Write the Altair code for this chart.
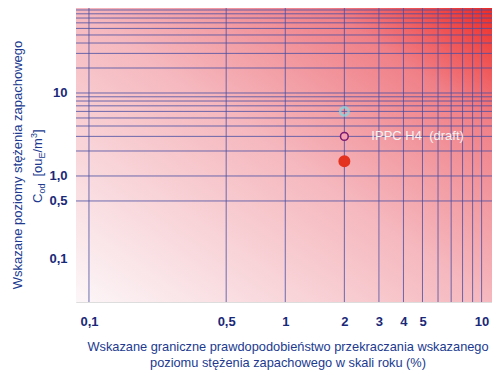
import altair as alt
import pandas as pd

# ---- data -------------------------------------------------------------
x_grid = [0.1, 0.5, 1, 2, 3, 4, 5, 6, 7, 8, 9, 10]
y_grid = [0.5, 1, 2, 3, 4, 5, 6, 7, 8, 9, 10, 20, 30, 40, 50, 60, 70, 80, 90, 100]
x_ticks = [0.1, 0.5, 1, 2, 3, 4, 5, 10]
x_tick_labels = ["0,1", "0,5", "1", "2", "3", "4", "5", "10"]
y_ticks = [0.1, 0.5, 1, 10]
y_tick_labels = ["0,1", "0,5", "1,0", "10"]
pt_x = [2, 2, 2]
pt_y = [6, 3, 1.5]
pt_kind = ["cyan", "open", "red"]
annot_text = ["IPPC\u00a0H4\u00a0\u00a0(draft)"]
x_title_lines = ["Wskazane graniczne prawdopodobieństwo przekraczania wskazanego",
                 "poziomu stężenia zapachowego w skali roku (%)"]
y_title_line1 = ["Wskazane poziomy stężenia zapachowego"]
# second y-title line split into pieces: (text, size, role)
y_title_pieces = [("C", 13, "main"), ("od", 9, "sub"), ("[ou", 13, "main"),
                  ("E", 9, "sub"), ("/m", 13, "main"), ("3", 9, "sup"), ("]", 13, "main")]
piece_gap_before = [0, 0, 7, 0, 0, 0, 0]

W, H = 416, 294
FONT = "Liberation Sans"
LABEL_C = "#1a2878"
TITLE_C = "#213a8f"
GRID_C = "#4a4fa3"

xs = alt.Scale(type="log", domain=[0.0859, 11.3], nice=False)
ys = alt.Scale(type="log", domain=[0.0303, 105.7], nice=False)


def label_expr(vals, labs):
    expr = "''"
    for v, l in reversed(list(zip(vals, labs))):
        expr = f"datum.value == {v} ? '{l}' : ({expr})"
    return expr


one = pd.DataFrame({"d": [0]})

bg = alt.Chart(one).mark_rect(
    fill=alt.LinearGradient(
        gradient="linear", x1=0, y1=1, x2=1, y2=0,
        stops=[alt.GradientStop(offset=0, color="#fcf6f8"),
               alt.GradientStop(offset=0.5, color="#f5b8be"),
               alt.GradientStop(offset=0.8, color="#f08088"),
               alt.GradientStop(offset=1, color="#ee2a24")]),
).encode(x=alt.value(0), x2=alt.value(W), y=alt.value(0), y2=alt.value(H))

vgrid = alt.Chart(pd.DataFrame({"x": x_grid})).mark_rule(
    color=GRID_C, strokeWidth=1, opacity=0.8
).encode(
    x=alt.X("x:Q", scale=xs, axis=alt.Axis(
        values=x_ticks, labelExpr=label_expr(x_ticks, x_tick_labels), grid=False,
        ticks=False, domain=False, title=None, labelFont=FONT, labelFontSize=13,
        labelFontWeight="bold", labelColor=LABEL_C, labelPadding=13, labelFlush=False))
)

hgrid = alt.Chart(pd.DataFrame({"y": y_grid})).mark_rule(
    color=GRID_C, strokeWidth=1, opacity=0.8
).encode(
    y=alt.Y("y:Q", scale=ys, axis=alt.Axis(
        values=y_ticks, labelExpr=label_expr(y_ticks, y_tick_labels), grid=False,
        ticks=False, domain=False, title=None, labelFont=FONT, labelFontSize=13,
        labelFontWeight="bold", labelColor=LABEL_C, labelPadding=9, labelFlush=False))
)

pts = pd.DataFrame({"x": pt_x, "y": pt_y, "k": pt_kind})
enc = dict(x=alt.X("x:Q", scale=xs), y=alt.Y("y:Q", scale=ys))

p_cyan = alt.Chart(pts).transform_filter(alt.datum.k == "cyan").mark_point(
    shape="circle", filled=False, stroke="#86d6df", strokeWidth=2.5, size=70, opacity=0.8
).encode(**enc)
p_open = alt.Chart(pts).transform_filter(alt.datum.k == "open").mark_point(
    shape="circle", filled=False, stroke="#7a1a72", fill="#f4a0b0", strokeWidth=1.5, size=60, opacity=1
).encode(**enc)
p_red = alt.Chart(pts).transform_filter(alt.datum.k == "red").mark_point(
    shape="circle", filled=True, fill="#e3321f", stroke="#e3321f", size=100, opacity=1
).encode(**enc)

annot = alt.Chart(pd.DataFrame({"x": [pt_x[1]], "y": [pt_y[1]], "t": annot_text})).mark_text(
    align="left", baseline="middle", dx=27, font=FONT, fontSize=13, color="#f2f2f2"
).encode(x=alt.X("x:Q", scale=xs), y=alt.Y("y:Q", scale=ys), text="t:N")

# x title (two lines)
xt = alt.Chart(pd.DataFrame({"t": x_title_lines, "dy": [339, 355]})).mark_text(
    align="center", baseline="middle", font=FONT, fontSize=12.8, color=TITLE_C
).encode(x=alt.value(212), y=alt.Y("dy:Q", scale=None), text="t:N")

# y title line 1
yt1 = alt.Chart(pd.DataFrame({"t": y_title_line1})).mark_text(
    align="center", baseline="middle", angle=270, font=FONT, fontSize=13, color=TITLE_C
).encode(x=alt.value(-58), y=alt.value(157), text="t:N")

# y title line 2 from pieces
cw = {"C": .722, "o": .556, "d": .556, "[": .278, "u": .556, "E": .667,
      "/": .278, "m": .833, "3": .556, "]": .278}
rows = []
pos = 195.0
base = {"main": -34, "sub": -31, "sup": -39}
for (txt, size, role), gap in zip(y_title_pieces, piece_gap_before):
    pos -= gap
    rows.append({"t": txt, "s": size, "px": base[role], "py": pos})
    pos -= sum(cw[c] for c in txt) * size
yt2 = alt.Chart(pd.DataFrame(rows)).mark_text(
    align="left", baseline="alphabetic", angle=270, font=FONT, color=TITLE_C
).encode(x=alt.X("px:Q", scale=None), y=alt.Y("py:Q", scale=None), text="t:N",
         size=alt.Size("s:Q", scale=None, legend=None))

chart = alt.layer(bg, vgrid, hgrid, p_cyan, p_open, p_red, annot, xt, yt1, yt2).properties(
    width=W, height=H,
    autosize=alt.AutoSizeParams(type="none"),
    padding={"left": 68, "top": 0, "right": 0, "bottom": 74},
).configure_view(stroke="#5a6a8a", strokeWidth=1).configure(background="white")

chart.save("out.html", embed_options={"renderer": "svg", "actions": False})
